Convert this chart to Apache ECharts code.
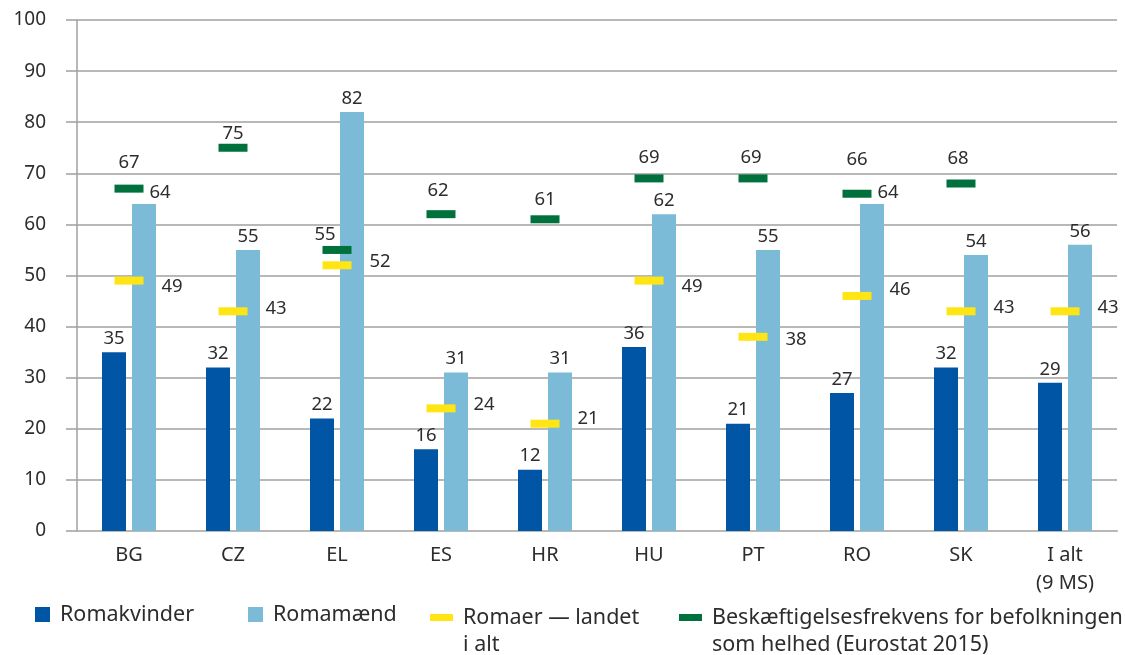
<!DOCTYPE html>
<html>
<head>
<meta charset="utf-8">
<script src="https://cdn.jsdelivr.net/npm/echarts@6/dist/echarts.min.js"></script>
<style>
html, body {margin: 0; padding: 0; background: #fff;}
#main {width: 1125px; height: 655px;}
</style>
</head>
<body>
<div id="main"></div>
<script>
// data
var countries = ['BG', 'CZ', 'EL', 'ES', 'HR', 'HU', 'PT', 'RO', 'SK', 'I alt\n(9 MS)'];
var romaWomen = [35, 32, 22, 16, 12, 36, 21, 27, 32, 29];
var romaMen = [64, 55, 82, 31, 31, 62, 55, 64, 54, 56];
var romaAll = [49, 43, 52, 24, 21, 49, 38, 46, 43, 43];
var popAll = [67, 75, 55, 62, 61, 69, 69, 66, 68, '-'];
var seriesNames = ['Romakvinder', 'Romamænd', 'Romaer — landet i alt', 'Beskæftigelsesfrekvens for befolkningen som helhed (Eurostat 2015)'];

// label nudges (layout only)
var menLabelShift = {0: [16, 2], 7: [16, 2]};
var allLabelDy = [6, -3, -4, -4, -5, 6, 3, -6, -4, -4];
var popLabelShift = [[0, -26], [0, -14], [-12, -15], [-3, -23], [0, -20], [0, -21], [-2, -21], [0, -34], [-3, -25], [0, -21]];

var FONT = 'Noto Sans';
var TXT = '#2d2d2d';
var colors = ['#0055a5', '#7cbbd7', '#ffe514', '#00703c'];

var menData = romaMen.map(function (v, i) {
    var item = {value: v};
    if (menLabelShift[i]) {
        item.label = {offset: menLabelShift[i]};
    }
    return item;
});
var allData = romaAll.map(function (v, i) {
    return {value: v, label: {offset: [43, allLabelDy[i]]}};
});
var popData = popAll.map(function (v, i) {
    return {value: v, label: {offset: popLabelShift[i]}};
});

var labelStyle = {show: true, color: TXT, fontFamily: FONT, fontSize: 18.5};
var legendText = {fontSize: 21.5, lineHeight: 27, color: TXT, fontFamily: FONT, padding: [0, 0, 0, 5]};

var myChart = echarts.init(document.getElementById('main'));
var option = {
    animation: false,
    textStyle: {fontFamily: FONT, color: TXT},
    grid: {left: 77, right: 8, top: 20, bottom: 124},
    legend: [
        {data: [seriesNames[0]], left: 30, top: 596, itemWidth: 15, itemHeight: 15, icon: 'rect', textStyle: legendText},
        {data: [seriesNames[1]], left: 243, top: 596, itemWidth: 15, itemHeight: 15, icon: 'rect', textStyle: legendText},
        {data: [seriesNames[2]], left: 425, top: 572, itemWidth: 23, itemHeight: 7, icon: 'rect',
            formatter: function () { return '\nRomaer — landet\ni alt'; },
            textStyle: legendText},
        {data: [seriesNames[3]], left: 674, top: 572, itemWidth: 23, itemHeight: 7, icon: 'rect',
            formatter: function () { return '\nBeskæftigelsesfrekvens for befolkningen\nsom helhed (Eurostat 2015)'; },
            textStyle: legendText}
    ],
    xAxis: {
        type: 'category',
        data: countries,
        axisLine: {lineStyle: {color: '#b8b8b8', width: 2}},
        axisTick: {show: false},
        axisLabel: {color: TXT, fontSize: 20, fontFamily: FONT, margin: 10, lineHeight: 28, interval: 0}
    },
    yAxis: {
        type: 'value',
        min: 0,
        max: 100,
        interval: 10,
        axisLine: {show: true, lineStyle: {color: '#a0a0a0', width: 1.5}},
        axisTick: {show: true, length: 11, lineStyle: {color: '#a0a0a0', width: 1.5}},
        splitLine: {lineStyle: {color: '#a0a0a0', width: 1.5}},
        axisLabel: {color: TXT, fontSize: 19, fontFamily: FONT, margin: 31}
    },
    series: [
        {
            name: seriesNames[0],
            type: 'bar',
            data: romaWomen,
            barWidth: 24,
            barGap: '25%',
            itemStyle: {color: colors[0]},
            label: Object.assign({position: 'top', distance: 4}, labelStyle)
        },
        {
            name: seriesNames[1],
            type: 'bar',
            data: menData,
            barWidth: 24,
            barGap: '25%',
            itemStyle: {color: colors[1]},
            label: Object.assign({position: 'top', distance: 4}, labelStyle)
        },
        {
            name: seriesNames[2],
            type: 'scatter',
            data: allData,
            symbol: 'rect',
            symbolSize: [29, 8],
            z: 3,
            itemStyle: {color: colors[2], opacity: 1},
            label: Object.assign({position: 'inside'}, labelStyle)
        },
        {
            name: seriesNames[3],
            type: 'scatter',
            data: popData,
            symbol: 'rect',
            symbolSize: [29, 8],
            z: 3,
            itemStyle: {color: colors[3], opacity: 1},
            label: Object.assign({position: 'inside'}, labelStyle)
        }
    ]
};
myChart.setOption(option);
</script>
</body>
</html>
